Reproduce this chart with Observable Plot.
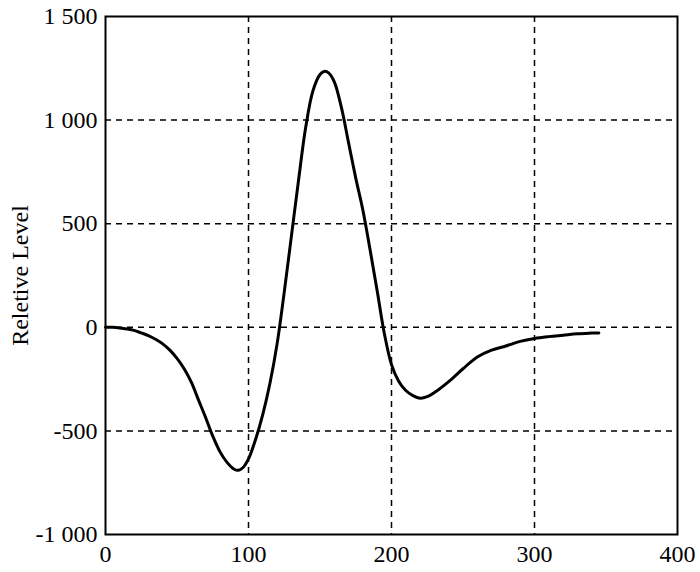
<!DOCTYPE html>
<html>
<head>
<meta charset="utf-8">
<script src="https://cdn.jsdelivr.net/npm/d3@7"></script>
<script src="https://cdn.jsdelivr.net/npm/@observablehq/plot@0.6"></script>
<style>
  html, body { margin: 0; padding: 0; background: #fff; }
  svg, svg text { font-family: "Liberation Serif", "Times New Roman", Times, serif !important; }
</style>
</head>
<body>
<div id="chart"></div>
<script>
const xs = [0,5,10,15,20,25,30,35,40,45,50,55,60,65,70,75,80,85,90,93,96,100,105,110,115,120,125,130,135,140,145,150,153,156,160,165,170,175,180,185,190,195,200,205,210,215,220,225,230,240,250,260,270,280,290,300,310,320,330,340,345];
const ys = [0,0,-3,-8,-15,-27,-40,-58,-80,-110,-150,-200,-265,-350,-435,-525,-600,-652,-685,-690,-678,-635,-540,-420,-270,-80,170,440,710,965,1140,1220,1235,1228,1185,1060,890,720,565,375,175,-30,-180,-260,-305,-330,-342,-335,-315,-262,-200,-143,-110,-90,-68,-54,-45,-38,-31,-28,-27];
const xTicks = [0,100,200,300,400];
const yTicks = [-1000,-500,0,500,1000,1500];
const xGrid = [100,200,300];
const yGrid = [-500,0,500,1000];
const yLabel = "Reletive Level";

const data = xs.map((x, i) => ({x, y: ys[i]}));
const fmt = d3.formatLocale({decimal: ".", thousands: " ", grouping: [3], currency: ["", ""], minus: "-"}).format(",");

const chart = Plot.plot({
  width: 700,
  height: 572,
  marginLeft: 105,
  marginTop: 16,
  marginRight: 23,
  marginBottom: 38,
  style: {fontSize: "24px", background: "#fff", color: "#000"},
  x: {domain: [0, 400]},
  y: {domain: [-1000, 1500]},
  marks: [
    Plot.ruleX(xGrid, {stroke: "#000", strokeWidth: 1.5, strokeDasharray: "6,5"}),
    Plot.ruleY(yGrid, {stroke: "#000", strokeWidth: 1.5, strokeDasharray: "6,5"}),
    Plot.frame({stroke: "#000", strokeWidth: 2}),
    Plot.axisX({ticks: xTicks, tickSize: 0, tickPadding: 10, label: null, tickFormat: d => String(d)}),
    Plot.axisY({ticks: yTicks, tickSize: 0, tickPadding: 8, tickFormat: fmt, label: yLabel, labelAnchor: "center", labelArrow: "none", labelOffset: 95}),
    Plot.line(data, {x: "x", y: "y", stroke: "#000", strokeWidth: 3, curve: "catmull-rom"})
  ]
});
document.getElementById("chart").append(chart);
</script>
</body>
</html>
